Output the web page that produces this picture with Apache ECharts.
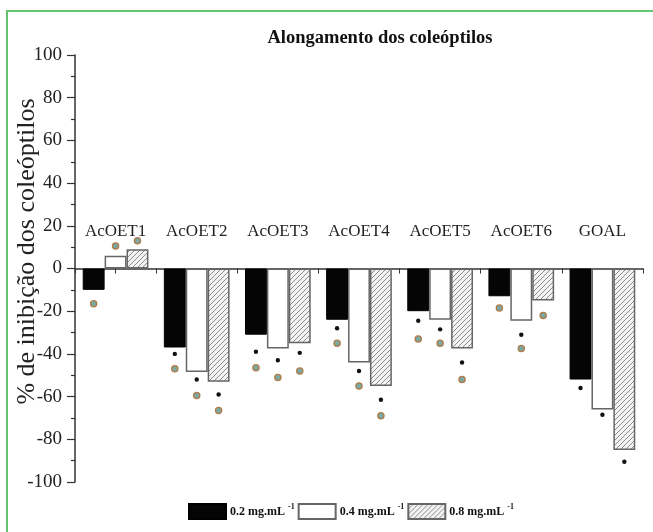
<!DOCTYPE html>
<html>
<head>
<meta charset="utf-8">
<script src="https://cdn.jsdelivr.net/npm/echarts@6/dist/echarts.min.js"></script>
<style>
  html, body { margin: 0; padding: 0; background: #fff; }
  #chart { position: absolute; left: 0; top: 0; width: 653px; height: 532px; }
  #frame { position: absolute; left: 6px; top: 10px; width: 700px; height: 600px;
           border-left: 2px solid #62c473; border-top: 2px solid #62c473; pointer-events: none; }
</style>
</head>
<body>
<div id="chart"></div>
<div id="frame"></div>
<script>
// ---- data ----
const categories = ['AcOET1', 'AcOET2', 'AcOET3', 'AcOET4', 'AcOET5', 'AcOET6', 'GOAL'];
const seriesNames = ['0.2 mg.mL', '0.4 mg.mL', '0.8 mg.mL'];
const conc02 = [-10, -37, -31, -24, -20, -13, -52];
const conc04 = [6, -48.5, -37.5, -44, -24, -24.5, -66];
const conc08 = [9, -53, -35, -55, -37.5, -15, -85];
// significance marks: black dot (*) and ringed circle
const dot02 = [null, -40, -39, -28, -24.5, null, -56];
const dot04 = [null, -52, -43, -48, -28.5, -31, -68.5];
const dot08 = [null, -59, -39.5, -61.5, -44, null, -90.5];
const ring02 = [-16.5, -47, -46.5, -35, -33, -18.5, null];
const ring04 = [10.5, -59.5, -51, -55, -35, -37.5, null];
const ring08 = [13, -66.5, -48, -69, -52, -22, null];
const yMin = -100, yMax = 100, yStep = 20;

const SERIF = '"Liberation Serif", "Times New Roman", serif';
const CAT_GAP = 0.19;
const GRID = { left: 75, right: 10, top: 55, bottom: 50 };
const CHART_H = 532;
const zeroFromTop = (CHART_H - GRID.top - GRID.bottom) * yMax / (yMax - yMin);

function hatchPattern() {
  const c = document.createElement('canvas');
  c.width = 5; c.height = 5;
  const g = c.getContext('2d');
  g.fillStyle = '#f3f3f3';
  g.fillRect(0, 0, 5, 5);
  g.strokeStyle = '#8c8c8c';
  g.lineWidth = 1;
  g.beginPath();
  g.moveTo(-1, 6); g.lineTo(6, -1);
  g.moveTo(-1, 1); g.lineTo(1, -1);
  g.moveTo(4, 6); g.lineTo(6, 4);
  g.stroke();
  return c;
}

function markerData(arrs) {
  const out = [];
  arrs.forEach((arr, k) => arr.forEach((v, i) => { if (v !== null) out.push([i, v, k]); }));
  return out;
}

function markerSeries(arrs, kind) {
  return {
    type: 'custom',
    silent: true,
    z: 5,
    data: markerData(arrs),
    encode: { x: 0, y: 1 },
    renderItem: function (params, api) {
      const pt = api.coord([api.value(0), api.value(1)]);
      const bw = api.size([1, 0])[0];
      const x = pt[0] + (api.value(2) - 1) * bw * (1 - CAT_GAP) / 3;
      if (kind === 'dot') {
        return { type: 'circle', shape: { cx: x, cy: pt[1], r: 2.2 }, style: { fill: '#111' } };
      }
      return { type: 'circle', shape: { cx: x, cy: pt[1], r: 3.1 },
               style: { fill: '#7aa8a2', stroke: '#b07d4a', lineWidth: 1.3 } };
    }
  };
}

const chart = echarts.init(document.getElementById('chart'), null, { renderer: 'canvas' });
const hatch = hatchPattern();

const barStyles = [
  { color: '#050505', borderColor: '#000', borderWidth: 1 },
  { color: '#ffffff', borderColor: '#666', borderWidth: 1.5 },
  { color: { image: hatch, repeat: 'repeat' }, borderColor: '#666', borderWidth: 1.5 }
];
const barData = [conc02, conc04, conc08];

chart.setOption({
  animation: false,
  backgroundColor: 'transparent',
  title: {
    text: 'Alongamento dos coleóptilos',
    left: 380, top: 29, textAlign: 'center', padding: 0,
    textStyle: { fontFamily: SERIF, fontWeight: 'bold', fontSize: 18.5, color: '#111' }
  },
  grid: { left: GRID.left, right: GRID.right, top: GRID.top, bottom: GRID.bottom,
          containLabel: false, outerBoundsMode: 'none' },
  legend: {
    data: seriesNames,
    left: 188, top: 503, padding: 0,
    icon: 'rect', itemWidth: 37, itemHeight: 15, itemGap: 3,
    formatter: n => n + '{sup|-1}',
    textStyle: {
      fontFamily: SERIF, fontWeight: 'bold', fontSize: 12, color: '#111', padding: [0, 0, 0, -1],
      rich: { sup: { fontFamily: SERIF, fontWeight: 'bold', fontSize: 8, color: '#111',
                     verticalAlign: 'top', padding: [0, 0, 9, 3] } }
    }
  },
  xAxis: [{
    type: 'category', data: categories,
    axisLine: { onZero: true, lineStyle: { color: '#333', width: 1.5 } },
    axisTick: { show: true, alignWithLabel: false, inside: false, length: 5, lineStyle: { color: '#333' } },
    axisLabel: { show: false },
    splitLine: { show: false }
  }, {
    type: 'category', data: categories, position: 'bottom',
    axisLine: { show: false, onZero: true, onZeroAxisIndex: 0 },
    axisTick: { show: true, alignWithLabel: true, length: 5, lineStyle: { color: '#333' } },
    axisLabel: { show: false },
    splitLine: { show: false }
  }, {
    type: 'category', data: categories, position: 'top', offset: -zeroFromTop,
    axisLine: { show: false, onZero: false },
    axisTick: { show: false },
    axisLabel: { margin: 28, fontFamily: SERIF, fontSize: 17, color: '#222', interval: 0 },
    splitLine: { show: false }
  }],
  yAxis: {
    type: 'value', min: yMin, max: yMax, interval: yStep,
    name: '% de inibição dos coleóptilos', nameLocation: 'middle', nameRotate: 90, nameGap: 35,
    nameMoveOverlap: false,
    nameTextStyle: { fontFamily: SERIF, fontSize: 26, color: '#222', padding: [0, 0, 0, 34] },
    axisLine: { show: true, lineStyle: { color: '#333', width: 1.5 } },
    axisTick: { show: true, length: 8, lineStyle: { color: '#333', width: 1.2 } },
    minorTick: { show: true, splitNumber: 2, length: 4, lineStyle: { color: '#333', width: 1.2 } },
    axisLabel: { fontFamily: SERIF, fontSize: 19, color: '#222', margin: 13 },
    splitLine: { show: false }
  },
  series: seriesNames.map((n, k) => ({
    type: 'bar', name: n, data: barData[k], xAxisIndex: 0,
    barGap: '0%', barCategoryGap: (CAT_GAP * 100) + '%',
    itemStyle: barStyles[k]
  })).concat([
    markerSeries([dot02, dot04, dot08], 'dot'),
    markerSeries([ring02, ring04, ring08], 'ring')
  ])
});
</script>
</body>
</html>
